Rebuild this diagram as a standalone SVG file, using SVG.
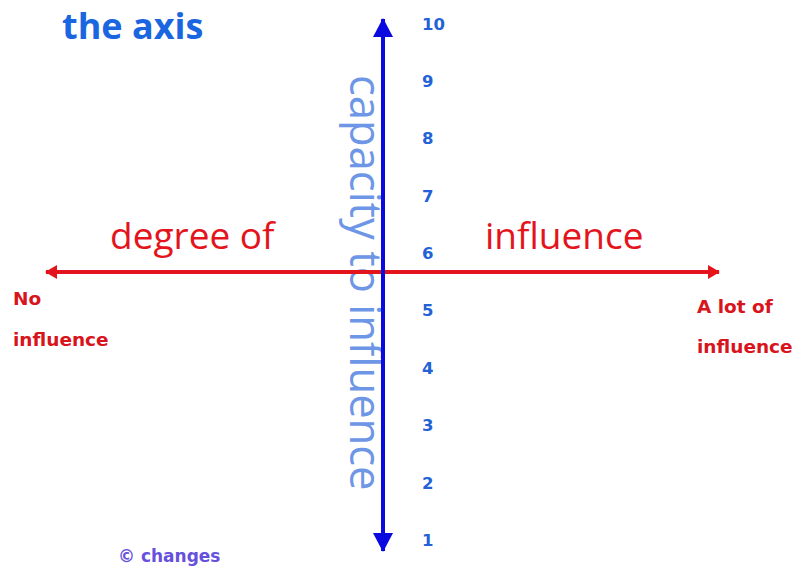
<svg xmlns="http://www.w3.org/2000/svg" width="795" height="568" viewBox="0 0 795 568">
<style>
.title{font-family:"Open Sans",sans-serif;font-weight:bold;font-size:36px;fill:#1a66e0}
.big{font-family:"Open Sans",sans-serif;font-size:37px;fill:#e4141c}
.lbl{font-family:"DejaVu Sans",sans-serif;font-weight:bold;font-size:18.5px;fill:#d8141c}
.num{font-family:"DejaVu Sans",sans-serif;font-weight:bold;font-size:16.5px;fill:#2262d6}
.vert{font-family:"Open Sans",sans-serif;font-size:43.5px;fill:#6e96e6}
.copy{font-family:"DejaVu Sans",sans-serif;font-weight:bold;font-size:17px;fill:#6650dc}
</style>
<defs>
<marker id="ar" viewBox="0 0 12 14" refX="11" refY="7" markerWidth="12" markerHeight="14" markerUnits="userSpaceOnUse" orient="auto-start-reverse">
<path d="M0,0 L12,7 L0,14 Z" fill="#e4141c"/>
</marker>
<marker id="ab" viewBox="0 0 19 20" refX="18" refY="10" markerWidth="19" markerHeight="20" markerUnits="userSpaceOnUse" orient="auto-start-reverse">
<path d="M0,0 L19,10 L0,20 Z" fill="#0a0ae0"/>
</marker>
</defs>
<g id="title"><text class="title" x="62" y="39">the axis</text></g>
<g id="vertical-label"><text class="vert" transform="translate(350,75) rotate(90)">capacity to influence</text></g>
<g id="connectors">
<line x1="46" y1="272" x2="719" y2="272" stroke="#e4141c" stroke-width="4" marker-start="url(#ar)" marker-end="url(#ar)"/>
<line x1="383" y1="19" x2="383" y2="551" stroke="#0a0ae0" stroke-width="4" marker-start="url(#ab)" marker-end="url(#ab)"/>
</g>
<g id="x-labels">
<text class="big" x="110" y="249">degree of</text>
<text class="big" x="485" y="249">influence</text>
<text class="lbl" x="13" y="305">No</text>
<text class="lbl" x="13" y="346">influence</text>
<text class="lbl" x="697" y="313">A lot of</text>
<text class="lbl" x="697" y="353">influence</text>
</g>
<g id="scale">
<text class="num" x="422" y="30">10</text>
<text class="num" x="422" y="87">9</text>
<text class="num" x="422" y="144">8</text>
<text class="num" x="422" y="202">7</text>
<text class="num" x="422" y="259">6</text>
<text class="num" x="422" y="316">5</text>
<text class="num" x="422" y="374">4</text>
<text class="num" x="422" y="431">3</text>
<text class="num" x="422" y="489">2</text>
<text class="num" x="422" y="546">1</text>
</g>
<g id="credit"><text class="copy" x="118" y="562">© changes</text></g>
</svg>
